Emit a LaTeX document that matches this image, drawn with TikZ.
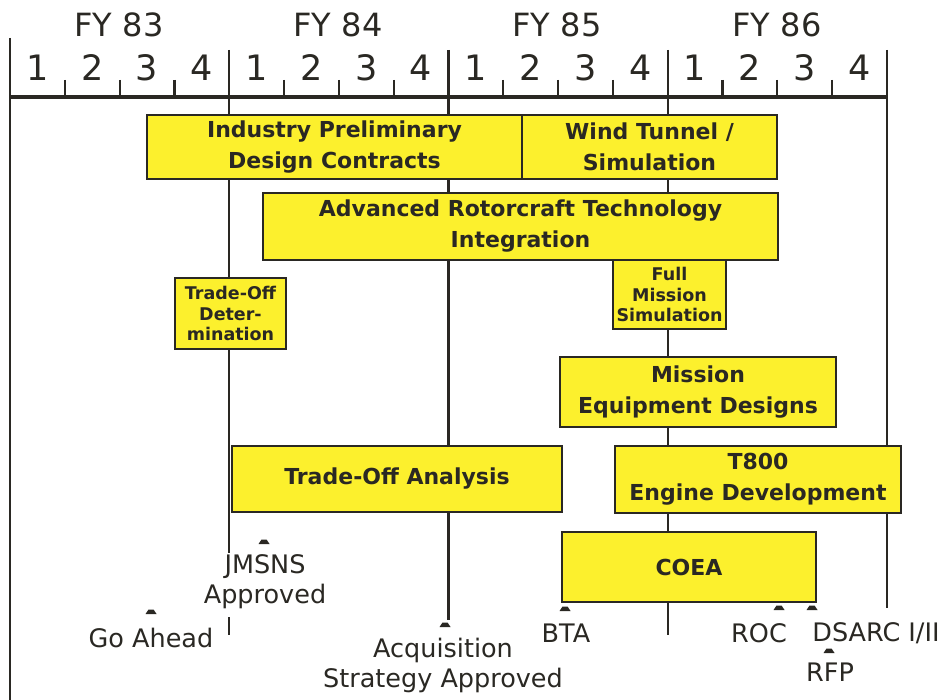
\documentclass[tikz,border=0pt]{standalone}
\usepackage{fontspec}
\setmainfont{DejaVu Sans}
\definecolor{boxyellow}{RGB}{252,240,45}
\definecolor{ink}{RGB}{42,40,35}
\begin{document}
\begin{tikzpicture}[x=1pt,y=-1pt,
  every node/.style={text=ink},
  bar/.style={draw=ink, line width=2.4pt, fill=boxyellow, inner sep=0pt, align=center,
    font=\fontsize{22}{31}\selectfont\bfseries},
  smallbar/.style={bar, font=\fontsize{17.5}{20.5}\selectfont\bfseries},
  gridline/.style={draw=ink, line width=2.2pt},
  lbl/.style={align=center, font=\fontsize{25.5}{30}\selectfont, inner sep=0pt},
  yearlbl/.style={font=\fontsize{32}{36}\selectfont, inner sep=0pt},
  qlbl/.style={font=\fontsize{35}{38}\selectfont, inner sep=0pt},
  mark/.pic={\fill[ink] (-5.5,1) -- (-2.5,-3.5) -- (2.5,-3.5) -- (5.5,1) -- cycle;}
]
\useasboundingbox (0,0) rectangle (948,700);
\fill[white] (0,0) rectangle (948,700);

% axis and ticks
\coordinate (a0) at (10,97);
\coordinate (a16) at (886.8,97);
\draw[draw=ink, line width=3.4pt] (a0) -- (a16);
\coordinate (lefttop) at (10,38);
\coordinate (leftbot) at (10,700);
\draw[gridline] (lefttop) -- (leftbot);
\foreach \k in {1,2,3,5,6,7,9,10,11,13,14,15}{
  \coordinate (mt\k) at ({10+54.8*\k},80);
  \coordinate (mb\k) at ({10+54.8*\k},97);
  \draw[gridline] (mt\k) -- (mb\k);
}
% year lines
\coordinate (y1t) at (229.2,50);  \coordinate (y1b) at (229.2,553);
\coordinate (y2t) at (448.4,50);  \coordinate (y2b) at (448.4,620);
\coordinate (y3t) at (667.6,50);  \coordinate (y3b) at (667.6,635);
\coordinate (y4t) at (886.8,50);  \coordinate (y4b) at (886.8,608);
\draw[gridline] (y1t) -- (y1b);
\draw[gridline] (y2t) -- (y2b);
\draw[gridline] (y3t) -- (y3b);
\draw[gridline] (y4t) -- (y4b);
\coordinate (y1s) at (229.2,617); \coordinate (y1e) at (229.2,635);
\draw[gridline] (y1s) -- (y1e);

% labels of axis
\node[yearlbl] (fy83) at (119,25) {FY 83};
\node[yearlbl] (fy84) at (338,25) {FY 84};
\node[yearlbl] (fy85) at (557,25) {FY 85};
\node[yearlbl] (fy86) at (777,25) {FY 86};
\foreach \y in {0,1,2,3}{
  \foreach \q in {1,2,3,4}{
    \node[qlbl] (q\y\q) at ({10+54.8*(4*\y+\q-0.5)},68) {\q};
  }
}

% bars
\node[bar, minimum width=375pt, minimum height=64pt] (ipd) at (334.5,147)
  {Industry Preliminary\\Design Contracts};
\node[bar, minimum width=255pt, minimum height=64pt] (wts) at (649.5,147)
  {Wind Tunnel /\\Simulation};
\node[bar, minimum width=515pt, minimum height=67pt] (arti) at (520.5,226.5)
  {Advanced Rotorcraft Technology\\Integration};
\node[smallbar, minimum width=111pt, minimum height=71pt] (tod) at (230.5,313.5)
  {Trade-Off\\Deter-\\mination};
\node[smallbar, minimum width=113pt, minimum height=69pt] (fms) at (669.5,294.5)
  {Full\\Mission\\Simulation};
\node[bar, minimum width=276pt, minimum height=70pt] (med) at (698,392)
  {Mission\\Equipment Designs};
\node[bar, minimum width=330pt, minimum height=66pt] (toa) at (397,479)
  {Trade-Off Analysis};
\node[bar, minimum width=286pt, minimum height=67pt] (t800) at (758,479.5)
  {T800\\Engine Development};
\node[bar, minimum width=254pt, minimum height=70pt] (coea) at (689,567)
  {COEA};

% milestones
\coordinate (mj) at (264,543); \pic at (mj) {mark};
\node[lbl] (jmsns) at (265,582) {JMSNS\\Approved};
\coordinate (mg) at (151,613); \pic at (mg) {mark};
\node[lbl] (goahead) at (151,638) {Go Ahead};
\coordinate (ma) at (445,626); \pic at (ma) {mark};
\node[lbl] (acq) at (443,665) {Acquisition\\Strategy Approved};
\coordinate (mb) at (565,610); \pic at (mb) {mark};
\node[lbl] (bta) at (566,633) {BTA};
\coordinate (mr) at (779,609); \pic at (mr) {mark};
\node[lbl] (roc) at (759,633) {ROC};
\coordinate (md) at (812,609); \pic at (md) {mark};
\node[lbl] (dsarc) at (876,633) {DSARC I/II};
\coordinate (mf) at (829,652); \pic at (mf) {mark};
\node[lbl] (rfp) at (830,672) {RFP};
\end{tikzpicture}
\end{document}
